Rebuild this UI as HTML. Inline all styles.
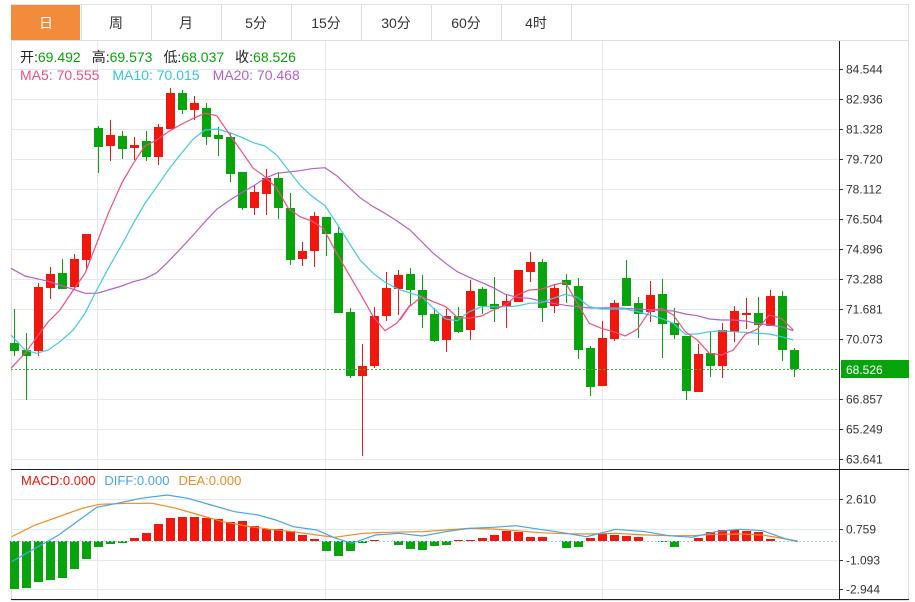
<!DOCTYPE html>
<html><head><meta charset="utf-8"><style>
html,body{margin:0;padding:0;background:#fff;width:915px;height:602px;overflow:hidden}
svg{display:block}
text{font-family:"Liberation Sans","Noto Sans CJK SC",sans-serif}
</style></head><body>
<svg id="s" width="915" height="602" xmlns="http://www.w3.org/2000/svg"></svg>
<script>
const s=document.getElementById('s');let h='';
h+='<rect x="11.5" y="4.5" width="897" height="596" fill="none" stroke="#e0e0e0"/>';
h+='<rect x="11" y="5" width="69" height="35" fill="#f28b3c"/>';
const tabs=['日','周','月','5分','15分','30分','60分','4时'];
tabs.forEach((t,i)=>{const x=11+70*i;
 if(i>0)h+=`<line x1="${x+0.5}" y1="5" x2="${x+0.5}" y2="40" stroke="#ddd"/>`;
 h+=`<text x="${x+35}" y="28" font-size="14" text-anchor="middle" fill="${i==0?'#fff':'#333'}">${t}</text>`;});
h+='<line x1="571.5" y1="5" x2="571.5" y2="40" stroke="#ddd"/>';
h+='<line x1="11" y1="40.5" x2="909" y2="40.5" stroke="#ddd"/>';
const gy=[69,99,129,159,189,219,249,279,309,339,399,429,459];
gy.forEach(y=>h+=`<line x1="11" y1="${y+.5}" x2="839" y2="${y+.5}" stroke="#e3e9ef"/>`);
[97,325,602].forEach(x=>h+=`<line x1="${x+.5}" y1="41" x2="${x+.5}" y2="599" stroke="#e3e9ef"/>`);
[499,529,560,589].forEach(y=>h+=`<line x1="11" y1="${y+.5}" x2="839" y2="${y+.5}" stroke="#e3e9ef"/>`);
const lab=['84.544','82.936','81.328','79.720','78.112','76.504','74.896','73.288','71.681','70.073','66.857','65.249','63.641'];
gy.forEach((y,i)=>{h+=`<line x1="839" y1="${y+.5}" x2="843" y2="${y+.5}" stroke="#333"/><text x="846" y="${y+4.5}" font-size="12" fill="#333">${lab[i]}</text>`});
[[499,'2.610'],[529,'0.759'],[560,'-1.093'],[589,'-2.944']].forEach(([y,t])=>{h+=`<line x1="839" y1="${y+.5}" x2="843" y2="${y+.5}" stroke="#333"/><text x="846" y="${y+4.5}" font-size="12" fill="#333">${t}</text>`});
const C=[[343,351,309,356],[350,356,333,400],[351,287,356,283],[288,274,299,267],[273,289,259,289],[287,259,290,254],[260,234,270,234],[128,147,126,173],[146,135,161,120],[136,149,131,159],[148,145,160,137],[141,157,131,161],[157,127,165,124],[129,93,129,88],[93,110,90,114],[110,103,120,96],[108,137,103,145],[135,139,127,156],[137,174,133,182],[172,208,172,210],[208,192,215,185],[194,178,215,169],[178,208,172,219],[208,260,193,265],[259,251,266,242],[251,216,267,212],[217,234,217,256],[233,313,227,313],[312,376,308,378],[376,366,456,344],[366,316,368,307],[316,288,321,272],[289,275,315,270],[274,290,268,306],[290,315,275,328],[314,341,308,342],[340,316,352,309],[316,332,307,333],[330,291,340,280],[289,306,287,314],[304,309,277,322],[306,301,328,294],[302,270,302,270],[272,262,282,252],[262,308,259,322],[306,288,313,284],[280,285,274,303],[286,350,278,359],[348,387,346,396],[386,338,386,321],[339,303,341,300],[278,306,260,306],[303,314,297,338],[312,295,322,281],[294,324,279,358],[323,335,308,339],[336,391,336,400],[392,354,392,344],[353,366,332,377],[366,330,378,323],[332,311,342,306],[315,313,329,298],[313,325,297,345],[326,296,326,290],[296,350,291,361],[350,369,348,377]];
const R='#f2170c',G='#08a40c';
C.forEach((c,i)=>{const x=14+12*i;const up=c[1]<c[0];const col=up?R:G;
 const t=Math.min(c[0],c[1]),b=Math.max(c[0],c[1]);const hi=Math.min(c[2],c[3],t),lo=Math.max(c[2],c[3],b);
 h+=`<line x1="${x+.5}" y1="${hi}" x2="${x+.5}" y2="${lo}" stroke="${col}"/>`;
 h+=`<rect x="${x-4}" y="${t}" width="9" height="${Math.max(b-t,2)}" fill="${col}"/>`;});
function pl(a,sx,ox,oy,col,sy=3){return `<polyline fill="none" stroke="${col}" stroke-width="1.2" points="${a.map(p=>(p[0]/sx+ox).toFixed(1)+','+(p[1]/sy+oy).toFixed(1)).join(' ')}"/>`;}
const ma5a=[[33,925],[75,880],[145,785],[180,750],[220,690],[255,640],[290,550],[325,460],[365,370],[400,310],[435,258],[470,240],[505,215],[540,195],[580,175],[615,160],[650,167],[690,225],[725,275],[760,325],[795,350],[830,385],[865,445],[900,470],[935,483],[970,505],[1010,580],[1045,640],[1080,700],[1120,770],[1155,812],[1190,790],[1230,735]];
const ma5b=[[0,240],[28,200],[65,170],[100,185],[137,200],[172,232],[208,235],[244,228],[280,210],[316,195],[352,165],[388,150],[424,148],[460,135],[496,127],[532,190],[568,250],[604,265],[640,275],[676,288],[712,268],[748,215],[784,205],[820,225],[856,275],[892,300],[928,340],[964,345],[1000,330],[1036,283],[1072,268],[1108,225],[1144,235],[1180,270]];
const ma10a=[[33,825],[75,870],[110,880],[145,870],[180,845],[220,810],[255,760],[290,690],[325,625],[365,555],[400,490],[435,430],[470,380],[505,330],[540,285],[580,237],[615,210],[650,207],[690,218],[725,232],[760,248],[795,258],[830,285],[865,330],[900,375],[935,408],[975,437],[1010,490],[1045,545],[1080,600],[1120,640],[1155,667],[1190,685]];
const ma10b=[[0,150],[28,158],[65,170],[100,205],[137,237],[172,242],[208,215],[244,200],[280,200],[316,200],[352,198],[388,190],[424,188],[460,175],[496,163],[532,172],[568,200],[604,207],[640,207],[676,207],[712,215],[748,225],[784,235],[820,250],[856,283],[892,282],[928,275],[964,273],[1000,275],[1036,277],[1072,280],[1108,282],[1144,290],[1180,300]];
const ma20a=[[33,625],[75,648],[110,656],[145,664],[180,675],[220,688],[255,700],[290,700],[325,690],[365,678],[400,665],[435,656],[470,638],[505,605],[540,568],[580,525],[615,485],[650,448],[690,420],[725,398],[760,378],[795,355],[830,340],[865,336],[900,332],[935,326],[975,323],[1010,347],[1045,380],[1080,413],[1120,440],[1155,460],[1190,482],[1230,510],[1260,540]];
const ma20b=[[100,40],[137,70],[172,95],[208,112],[244,127],[280,143],[316,163],[352,172],[388,175],[424,183],[460,190],[496,196],[532,200],[568,204],[604,204],[640,203],[676,205],[712,207],[748,209],[784,211],[820,213],[856,222],[892,227],[928,237],[964,240],[1000,240],[1036,243],[1072,250],[1108,255],[1144,260],[1180,272]];
const cv=(a,ox,oy)=>a.map(p=>[p[0]/3+ox,p[1]/3+oy]);
const join=(a,b)=>cv(a,0,60).concat(cv(b,400,240)).map(p=>[p[0]*3,p[1]*3]);
h+=pl(join(ma20a,ma20b),3,0,0,'#b360cc');
h+=pl(join(ma10a,ma10b),3,0,0,'#40c8e0');
h+=pl(join(ma5a,ma5b),3,0,0,'#ef4f7e');
h+='<line x1="11" y1="369.5" x2="839" y2="369.5" stroke="#3cb83c" stroke-dasharray="2,2"/>';
h+='<rect x="841" y="360" width="68" height="18" fill="#08a40c"/><text x="846" y="374" font-size="12" fill="#fff">68.526</text>';
h+='<line x1="839.5" y1="41" x2="839.5" y2="600" stroke="#222"/>';
h+='<line x1="11" y1="469.5" x2="909" y2="469.5" stroke="#222"/>';
h+='<line x1="11" y1="599.5" x2="909" y2="599.5" stroke="#222"/>';
h+='<text x="20" y="62" font-size="14"><tspan fill="#222">开:</tspan><tspan fill="#09a00c">69.492</tspan><tspan fill="#222" dx="11">高:</tspan><tspan fill="#09a00c">69.573</tspan><tspan fill="#222" dx="11">低:</tspan><tspan fill="#09a00c">68.037</tspan><tspan fill="#222" dx="11">收:</tspan><tspan fill="#09a00c">68.526</tspan></text>';
h+='<text x="20" y="80" font-size="14"><tspan fill="#ef4f7e">MA5: 70.555</tspan><tspan fill="#34c4dc" dx="13">MA10: 70.015</tspan><tspan fill="#b360cc" dx="13">MA20: 70.468</tspan></text>';
h+='<text x="21" y="485" font-size="13"><tspan fill="#f2170c">MACD:0.000</tspan><tspan fill="#4aa3e8" dx="9">DIFF:0.000</tspan><tspan fill="#f08a1e" dx="9">DEA:0.000</tspan></text>';
const M=[589,588,582,580,578,569,559,547,544,543,538,533,524,518,517,517,518,519,522,521,526,529,529,531,535,539,551,556,551,543,540,541,545,549,550,546,545,540,540,538,535,531,532,537,537,541,548,547,538,534,535,536,537,541,542,547,541,538,532,530,530,531,532,539,541,541];
const Z=541;
M.forEach((v,i)=>{const x=14+12*i;if(Math.abs(v-Z)<1)return;const col=v<Z?R:G;h+=`<rect x="${x-4}" y="${Math.min(v,Z)}" width="9" height="${Math.abs(v-Z)}" fill="${col}"/>`});
h+='<line x1="11" y1="541.5" x2="839" y2="541.5" stroke="#9fd6ee" stroke-dasharray="2,2"/>';
const diff=[[20,290],[60,250],[100,210],[135,165],[165,127],[200,115],[240,100],[285,90],[320,100],[360,120],[400,140],[440,150],[470,165],[500,185],[540,195],[570,218],[600,235],[640,210],[680,205],[720,213],[760,200],[800,190],[840,187],[880,182],[920,193],[960,203],[1000,215],[1050,193],[1100,200],[1140,212],[1180,217],[1220,200],[1260,193],[1300,197],[1340,222],[1360,230]];
const dea=[[20,215],[60,180],[100,155],[140,130],[170,118],[220,115],[260,115],[300,130],[340,150],[380,170],[420,183],[460,193],[500,200],[540,210],[570,217],[620,205],[660,202],[720,200],[760,195],[800,190],[840,192],[880,197],[920,203],[960,206],[1000,207],[1050,205],[1100,210],[1140,212],[1180,212],[1220,208],[1260,207],[1300,210],[1340,222],[1360,228]];
h+=pl(dea,1.705,0,465,'#f08a1e');
h+=pl(diff,1.705,0,465,'#4aa3e8');
s.innerHTML=h;
</script>
</body></html>
